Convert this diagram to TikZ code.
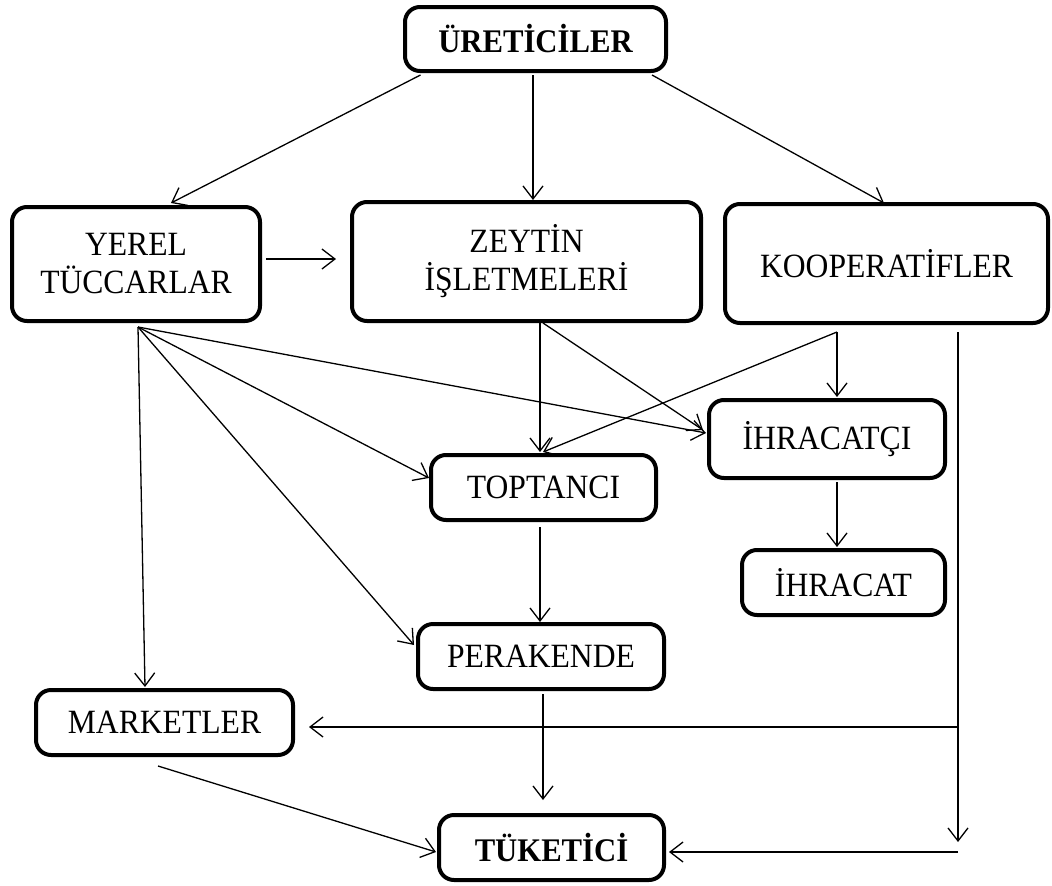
\documentclass[tikz,border=0pt]{standalone}
\usepackage{fontspec}
\setmainfont[FakeStretch=0.93]{Liberation Serif}
\usetikzlibrary{arrows.meta,calc}
\begin{document}
\begin{tikzpicture}[x=1pt,y=-1pt,
  box/.style={draw,line width=4pt,rounded corners=15pt,inner sep=0pt,align=center,
    font=\fontsize{34}{38}\selectfont},
  arr/.style={line width=1.3pt,-{Straight Barb[length=13pt,width=20pt]}}]
\useasboundingbox (0,0) rectangle (1052,886);
\node[box,minimum width=261pt,minimum height=64pt,font=\fontsize{33}{38}\selectfont\bfseries] (uret) at (535.5,39) {ÜRETİCİLER};
\node[box,minimum width=248pt,minimum height=114pt] (yerel) at (136,264) {YEREL\\TÜCCARLAR};
\node[box,minimum width=349pt,minimum height=119pt] (zeyt) at (526.5,261.5) {ZEYTİN\\İŞLETMELERİ};
\node[box,minimum width=323pt,minimum height=119pt] (koop) at (886.5,263.5) {KOOPERATİFLER};
\node[box,minimum width=236pt,minimum height=78pt] (ihrc) at (827,439) {İHRACATÇI};
\node[box,minimum width=225pt,minimum height=65pt] (topt) at (543.5,487.5) {TOPTANCI};
\node[box,minimum width=203pt,minimum height=65pt] (ihra) at (843.5,582.5) {İHRACAT};
\node[box,minimum width=246pt,minimum height=65pt] (pera) at (541,656.5) {PERAKENDE};
\node[box,minimum width=257pt,minimum height=65pt] (mark) at (164.5,722.5) {MARKETLER};
\node[box,minimum width=225pt,minimum height=65pt,font=\fontsize{33}{38}\selectfont\bfseries] (tuke) at (551.5,847.5) {TÜKETİCİ};
% from producers
\draw[arr] ($(uret.south)+(-115,2)$) -- ($(yerel.north)+(35,-2)$);
\draw[arr] ($(uret.south)+(-2.5,2)$) -- ($(zeyt.north)+(6.5,0)$);
\draw[arr] ($(uret.south)+(116.5,2)$) -- ($(koop.north)+(-2.5,1)$);
% yerel -> zeyt
\draw[arr] ($(yerel.east)+(4,-5)$) -- ($(zeyt.west)+(-14,-2.5)$);
% from yerel
\draw[arr] ($(yerel.south)+(2,4)$) -- ($(mark.north)+(-19.5,-1)$);
\draw[arr] ($(yerel.south)+(2,4)$) -- ($(topt.west)+(0,-9.5)$);
\draw[arr] ($(yerel.south)+(2,4)$) -- ($(pera.west)+(-2,-11.5)$);
\draw[arr] ($(yerel.south)+(2,4)$) -- ($(ihrc.west)+(-1,-6)$);
% from zeyt
\draw[arr] ($(zeyt.south)+(13.5,0)$) -- ($(topt.north)+(-3.5,-1)$);
\draw[arr] ($(zeyt.south)+(16.5,0)$) -- ($(ihrc.west)+(-4,-9)$);
% from koop
\draw[arr] ($(koop.south)+(-49.5,7)$) -- ($(topt.north)+(-0.5,-1)$);
\draw[arr] ($(koop.south)+(-49.5,7)$) -- ($(ihrc.north)+(10,-1)$);
\draw[arr] ($(koop.south)+(71.5,7)$) -- ($(koop.south)+(71.5,517)$);
\draw[arr] ($(koop.south)+(71.5,402)$) -- ($(mark.east)+(14,4.5)$);
\draw[arr] ($(koop.south)+(71.5,527)$) -- ($(tuke.east)+(3,4.5)$);
% lower chain
\draw[arr] ($(ihrc.south)+(10,2)$) -- ($(ihra.north)+(-6.5,-1)$);
\draw[arr] ($(topt.south)+(-3.5,5)$) -- ($(pera.north)+(-1,0)$);
\draw[arr] ($(pera.south)+(2,3)$) -- ($(tuke.north)+(-8.5,-13)$);
\draw[arr] ($(mark.south)+(-6.5,9)$) -- ($(tuke.west)+(-1,4.5)$);
\end{tikzpicture}
\end{document}
